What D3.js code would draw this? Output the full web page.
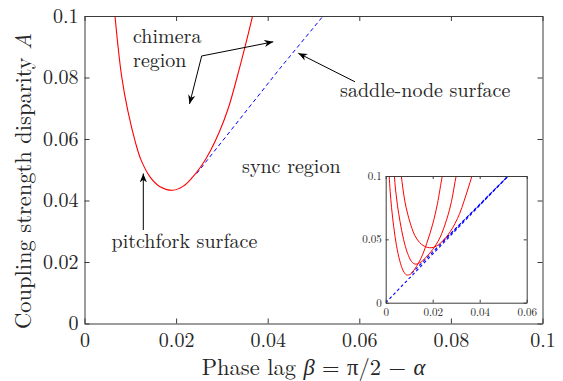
<!DOCTYPE html>
<html lang="en">
<head>
<meta charset="UTF-8" />
<title>Chimera and sync regions</title>
<script src="https://d3js.org/d3.v7.min.js"></script>
<style>
body{margin:0;background:#fff}
svg{display:block}
.axis path,.axis line{stroke:#3a3a3a}
</style>
</head>
<body>
<div id="chart"></div>
<script>
const FONT = '"Latin Modern Roman","Liberation Serif",serif';

// main axes ticks
const xTicks = [0, 0.02, 0.04, 0.06, 0.08, 0.1];
const yTicks = [0, 0.02, 0.04, 0.06, 0.08, 0.1];
const insetXTicks = [0, 0.02, 0.04, 0.06];
const insetYTicks = [0, 0.05, 0.1];

// pitchfork surface (beta, A)
const pitchfork1 = [[0.0062,0.108],[0.00666,0.1],[0.00725,0.0911],[0.00812,0.0803],[0.00943,0.0694],[0.01118,0.0586],[0.01234,0.0532],[0.0143,0.0477],[0.01649,0.0445],[0.0193,0.04335],[0.0215,0.0446],[0.0235,0.0474],[0.0255,0.0512],[0.0275,0.0562],[0.0295,0.0625],[0.0315,0.0705],[0.0333,0.0800],[0.0350,0.0897],[0.0367,0.1],[0.0380,0.108]];
const pitchfork2 = [[0.0034,0.108],[0.0037,0.1],[0.0042,0.089],[0.0050,0.077],[0.0061,0.064],[0.0076,0.050],[0.0093,0.039],[0.0110,0.0325],[0.0125,0.0305],[0.0145,0.0315],[0.0170,0.0355],[0.020,0.042],[0.023,0.051],[0.026,0.066],[0.028,0.080],[0.030,0.1],[0.0312,0.108]];
const pitchfork3 = [[0.0013,0.108],[0.0015,0.1],[0.0019,0.088],[0.0025,0.075],[0.0034,0.060],[0.0046,0.045],[0.0060,0.033],[0.0075,0.025],[0.0089,0.0219],[0.0105,0.0225],[0.0125,0.027],[0.015,0.035],[0.0175,0.047],[0.020,0.062],[0.022,0.078],[0.0241,0.1],[0.0252,0.108]];

// saddle-node surface
const saddle1 = [[0.0245,0.0488],[0.0427,0.0830],[0.0521,0.1]];
const saddleInset = [
  [[0,0],[0.0521,0.1]],
  [[0.011,0.0232],[0.0521,0.1]],
  [[0.0245,0.0488],[0.0521,0.1]]
];

// annotations in data units
const texts = [
  {x:0.0106, y:0.0912, lines:["chimera","region"]},
  {x:0.0558, y:0.0737, lines:["saddle-node surface"]},
  {x:0.0344, y:0.0489, lines:["sync region"]},
  {x:0.0059, y:0.0245, lines:["pitchfork surface"]}
];
const arrows = [
  {from:[0.02559,0.0870], to:[0.04122,0.0916]},
  {from:[0.02559,0.0870], to:[0.02293,0.0714]},
  {from:[0.05906,0.0786], to:[0.04668,0.0879]},
  {from:[0.01284,0.0304], to:[0.01284,0.0488]}
];

const W = 563, H = 381;
const svg = d3.select("#chart").append("svg").attr("width", W).attr("height", H);

svg.append("defs").append("marker")
  .attr("id", "head").attr("viewBox", "0 0 10 10")
  .attr("refX", 10).attr("refY", 5)
  .attr("markerWidth", 9).attr("markerHeight", 9)
  .attr("markerUnits", "userSpaceOnUse")
  .attr("orient", "auto")
  .append("path").attr("d", "M0,1 L10,5 L0,9 L3,5 Z").attr("fill", "#000");

const fmt = d => d === 0 ? "0" : String(+d.toFixed(2));

function frame(g, x, y, xt, yt, size, tick, padX, padY) {
  const [x0, x1] = x.range(), [y0, y1] = y.range();
  const styleText = s => s.selectAll("text").style("font-family", FONT).style("font-size", size + "px").attr("fill", "#262626");
  g.append("g").attr("class", "axis").attr("transform", `translate(0,${y0})`)
    .call(d3.axisBottom(x).tickValues(xt).tickFormat(fmt).tickSize(-tick).tickSizeOuter(0).tickPadding(padX))
    .call(styleText);
  g.append("g").attr("class", "axis").attr("transform", `translate(0,${y1})`)
    .call(d3.axisTop(x).tickValues(xt).tickFormat("").tickSize(-tick).tickSizeOuter(0));
  g.append("g").attr("class", "axis").attr("transform", `translate(${x0},0)`)
    .call(d3.axisLeft(y).tickValues(yt).tickFormat(fmt).tickSize(-tick).tickSizeOuter(0).tickPadding(padY))
    .call(styleText);
  g.append("g").attr("class", "axis").attr("transform", `translate(${x1},0)`)
    .call(d3.axisRight(y).tickValues(yt).tickFormat("").tickSize(-tick).tickSizeOuter(0));
  g.selectAll(".domain").attr("stroke-width", 1);
}

const label = (sel, size) => sel.append("text").style("font-family", FONT).style("font-size", (size || 20) + "px").attr("fill", "#262626");

// main plot
const x = d3.scaleLinear().domain([0, 0.1]).range([84.5, 542.5]);
const y = d3.scaleLinear().domain([0, 0.1]).range([323.5, 16]);

svg.append("clipPath").attr("id", "clipMain").append("rect")
  .attr("x", x(0)).attr("y", y(0.1)).attr("width", x(0.1) - x(0)).attr("height", y(0) - y(0.1));

const line = (sx, sy) => d3.line().x(d => sx(d[0])).y(d => sy(d[1]));
const smooth = d3.curveCatmullRom.alpha(0.5);

const main = svg.append("g").attr("clip-path", "url(#clipMain)");
main.append("path").datum(saddle1).attr("fill", "none").attr("stroke", "#0000ff")
  .attr("stroke-width", 1).attr("stroke-dasharray", "4,3")
  .attr("d", line(x, y));
main.append("path").datum(pitchfork1).attr("fill", "none").attr("stroke", "#ff0000")
  .attr("stroke-width", 1.1)
  .attr("d", line(x, y).curve(smooth));

frame(svg, x, y, xTicks, yTicks, 20, 5, 9, 6);

// axis labels
const xl = label(svg, 22.5).attr("x", (x(0) + x(0.1)) / 2).attr("y", 375).attr("text-anchor", "middle");
xl.append("tspan").text("Phase lag ");
xl.append("tspan").attr("font-style", "italic").text("β");
xl.append("tspan").text(" = π/2 − ");
xl.append("tspan").attr("font-style", "italic").text("α");

const yl = label(svg, 22.5)
  .attr("transform", "translate(31,181) rotate(-90)")
  .attr("text-anchor", "middle");
yl.append("tspan").text("Coupling strength disparity ");
yl.append("tspan").attr("font-style", "italic").text("A");

// annotations
texts.forEach(t => {
  t.lines.forEach((s, i) => label(svg).attr("x", x(t.x)).attr("y", y(t.y) + i * 24).text(s));
});
arrows.forEach(a => {
  svg.append("line")
    .attr("x1", x(a.from[0])).attr("y1", y(a.from[1]))
    .attr("x2", x(a.to[0])).attr("y2", y(a.to[1]))
    .attr("stroke", "#000").attr("stroke-width", 1).attr("marker-end", "url(#head)");
});

// inset
const xi = d3.scaleLinear().domain([0, 0.06]).range([385.7, 526.7]);
const yi = d3.scaleLinear().domain([0, 0.1]).range([302.7, 176]);

svg.append("rect").attr("x", xi(0)).attr("y", yi(0.1))
  .attr("width", xi(0.06) - xi(0)).attr("height", yi(0) - yi(0.1)).attr("fill", "#fff");
svg.append("clipPath").attr("id", "clipInset").append("rect")
  .attr("x", xi(0)).attr("y", yi(0.1)).attr("width", xi(0.06) - xi(0)).attr("height", yi(0) - yi(0.1));

const inset = svg.append("g").attr("clip-path", "url(#clipInset)");
saddleInset.forEach(s => {
  inset.append("path").datum(s).attr("fill", "none").attr("stroke", "#0000ff")
    .attr("stroke-width", 1.1).attr("stroke-dasharray", "3,2.5").attr("d", line(xi, yi));
});
[pitchfork1, pitchfork2, pitchfork3].forEach(p => {
  inset.append("path").datum(p).attr("fill", "none").attr("stroke", "#ff0000")
    .attr("stroke-width", 1).attr("d", line(xi, yi).curve(smooth));
});

frame(svg, xi, yi, insetXTicks, insetYTicks, 11, 3, 6, 4);
</script>
</body>
</html>
